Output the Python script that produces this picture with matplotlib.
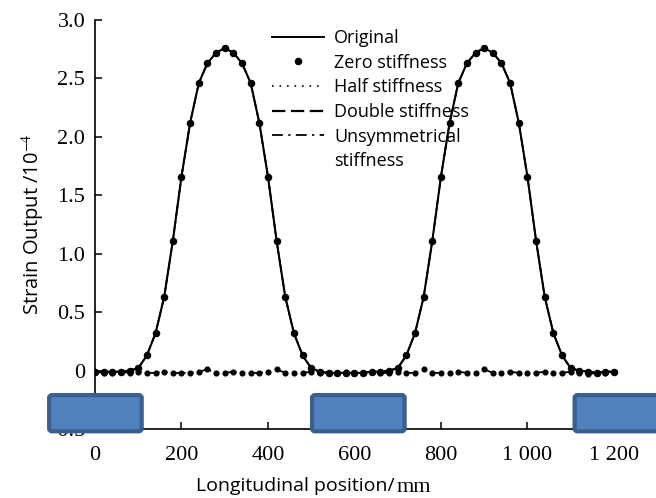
import matplotlib
matplotlib.use('Agg')
import matplotlib.pyplot as plt
from matplotlib.lines import Line2D
from matplotlib.patches import FancyBboxPatch

plt.rcParams['mathtext.fontset'] = 'stix'

# longitudinal position of the gauge, mm
pos = list(range(0, 1201, 20))

# strain output /1e-4, two wheel passes
original = [-0.01, -0.01, -0.01, -0.01, 0.0,
            0.02, 0.13, 0.32, 0.63, 1.11, 1.66, 2.12, 2.46, 2.63, 2.72, 2.76,
            2.72, 2.63, 2.46, 2.12, 1.66, 1.11, 0.63, 0.32, 0.13, 0.02,
            -0.01, -0.02, -0.02, -0.02, -0.02, -0.02, -0.01, -0.01, 0.0,
            0.02, 0.13, 0.32, 0.63, 1.11, 1.66, 2.12, 2.46, 2.63, 2.72, 2.76,
            2.72, 2.63, 2.46, 2.12, 1.66, 1.11, 0.63, 0.32, 0.13, 0.02,
            0.0, -0.01, -0.02, -0.01, -0.01]
zero_stiff = original
half_stiff = original
double_stiff = original
unsym_stiff = [-0.01, -0.02, -0.02, -0.01, -0.02, -0.01, -0.02, -0.02, -0.01, -0.02,
               -0.02, -0.02, -0.01, 0.01, -0.02, -0.02, -0.01, -0.02, -0.02, -0.02,
               -0.01, 0.01, -0.02, -0.02, -0.02, -0.01, -0.02, -0.02, -0.02, -0.01,
               -0.02, -0.02, -0.01, -0.02, -0.02, -0.01, -0.02, -0.02, 0.01, -0.02,
               -0.02, -0.02, -0.01, -0.02, -0.02, 0.01, -0.02, -0.02, -0.01, -0.02,
               -0.02, -0.02, -0.01, -0.02, -0.02, -0.01, -0.02, -0.03, -0.02, -0.02,
               -0.01]

xticks = [0, 200, 400, 600, 800, 1000, 1200]
xticklabels = ['0', '200', '400', '600', '800', '1 000', '1 200']
yticks = [-0.5, 0, 0.5, 1.0, 1.5, 2.0, 2.5, 3.0]
yticklabels = ['-0.5', '0', '0.5', '1.0', '1.5', '2.0', '2.5', '3.0']

# sleeper blocks under the rail (left edge, width)
sleepers = [(-106, 214), (502, 214), (1109, 214)]

dotted = (0, (1, 3.5))
dashed = (0, (8, 3))
dashdot = (0, (7, 3, 1.5, 3))

fig = plt.figure(figsize=(6.56, 4.98), dpi=100)
ax = fig.add_axes([0.1448, 0.1386, 0.857, 0.8212])

ax.plot(pos, original, 'k-', lw=1.5)
ax.plot(pos, half_stiff, color='k', ls=dotted, lw=1.2)
ax.plot(pos, double_stiff, color='k', ls=dashed, lw=1.2)
ax.plot(pos, unsym_stiff, color='k', ls=dashdot, lw=1.3)
ax.plot(pos, unsym_stiff, 'ko', ms=3.4, ls='none')
ax.plot(pos, zero_stiff, 'ko', ms=4.4, ls='none')

ax.set_xlim(0, 1300)
ax.set_ylim(-0.5, 3.0)
ax.spines['top'].set_visible(False)
ax.spines['right'].set_visible(False)
ax.spines['left'].set_linewidth(1.2)
ax.spines['bottom'].set_linewidth(1.2)
ax.set_xticks(xticks)
ax.set_xticklabels(xticklabels, family='Liberation Serif', fontsize=16)
ax.set_yticks(yticks)
ax.set_yticklabels(yticklabels, family='Liberation Serif', fontsize=16)
ax.tick_params(axis='both', direction='in', length=5, width=1.1)
ax.tick_params(axis='x', pad=12)
ax.tick_params(axis='y', pad=7)

ax.set_ylabel('Strain Output /10$^{-4}$', family='Open Sans', fontsize=14.5, labelpad=2)
ax.set_xlabel('Longitudinal position/', family='Open Sans', fontsize=14, ha='left')
ax.xaxis.set_label_coords(0.18, -0.118)
ax.annotate('mm', xy=(1, 0), xycoords=ax.xaxis.label, xytext=(1, -1.5),
            textcoords='offset points', ha='left', va='bottom',
            family='Liberation Serif', fontsize=16)

for left, w in sleepers:
    box = FancyBboxPatch((left, -0.52), w, 0.31, boxstyle='round,pad=0,rounding_size=7',
                         mutation_aspect=0.31 / 214 * 2.3,
                         facecolor='#4f81bd', edgecolor='#3a5f8c', lw=3,
                         clip_on=False, zorder=5)
    ax.add_patch(box)

handles = [Line2D([], [], color='k', lw=1.4),
           Line2D([], [], color='k', marker='o', ms=4.4, ls='none'),
           Line2D([], [], color='k', ls=dotted, lw=1.2),
           Line2D([], [], color='k', ls=(0, (6, 2.5)), lw=1.6),
           Line2D([], [], color='k', ls=(0, (6, 3, 1.2, 3)), lw=1.3),
           Line2D([], [], ls='none')]
labels = ['Original', 'Zero stiffness', 'Half stiffness', 'Double stiffness',
          'Unsymmetrical', 'stiffness']
ax.legend(handles, labels, loc='upper left', bbox_to_anchor=(272 / 656, 1 - 29 / 498),
          bbox_transform=fig.transFigure, frameon=False,
          prop={'family': 'Open Sans', 'size': 13}, handlelength=2.9,
          handletextpad=0.55, labelspacing=0.37, borderaxespad=0, borderpad=0)

fig.savefig('out.png', dpi=100)
